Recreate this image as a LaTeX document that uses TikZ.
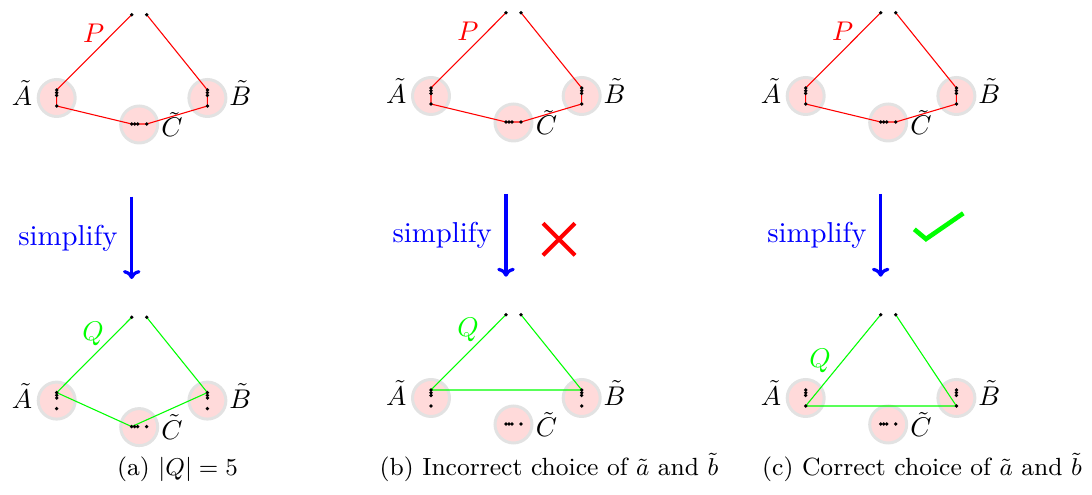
\documentclass[tikz,border=0pt]{standalone}
\usetikzlibrary{arrows.meta}
\definecolor{blobfill}{RGB}{255,218,218}
\definecolor{blobring}{RGB}{226,226,226}
\definecolor{qgreen}{RGB}{0,255,0}
\tikzset{
  blob/.style={circle, fill=blobfill, draw=blobring, line width=1.1pt, minimum size=13.7pt, inner sep=0pt},
  dot/.style={circle, fill=black, inner sep=0pt, minimum size=1.4pt},
  pline/.style={red, line width=0.4pt, line join=round},
  qline/.style={qgreen, line width=0.4pt, line join=round},
  lab/.style={anchor=base, inner sep=0pt},
  simparrow/.style={blue, line width=1.2pt, -{To[length=3.3pt,width=6.5pt]}},
  simplab/.style={blue, left, inner sep=4.6pt, font=\fontsize{10.65}{12}\selectfont},
  xmark/.style={red, line width=1.5pt},
  ckmark/.style={qgreen, line width=1.7pt},
  caplab/.style={anchor=base, inner sep=0pt, font=\fontsize{9.2}{11}\selectfont},
}
\newcommand\mkpanel[3]{%
  \begin{scope}[shift={(#2,#3)}]
    \node[blob] (#1cA) at (-75,83.3) {};
    \node[blob] (#1cB) at (75.7,83.3) {};
    \node[blob] (#1cC) at (7.5,109.8) {};
    \coordinate (#1T1) at (0,0);
    \coordinate (#1T2) at (15,0);
    \coordinate (#1A1) at (-75,75.3);
    \coordinate (#1A2) at (-75,78);
    \coordinate (#1A3) at (-75,80.7);
    \coordinate (#1A4) at (-75,91.3);
    \coordinate (#1B1) at (75.7,75.3);
    \coordinate (#1B2) at (75.7,78);
    \coordinate (#1B3) at (75.7,80.7);
    \coordinate (#1B4) at (75.7,91.3);
    \coordinate (#1C1) at (0,109.3);
    \coordinate (#1C2) at (3,109.3);
    \coordinate (#1C3) at (6,109.3);
    \coordinate (#1C4) at (15,109.3);
    \node[lab] (#1lA) at (-109.7,90.8) {$\tilde A$};
    \node[lab] (#1lB) at (108.5,90.8) {$\tilde B$};
    \node[lab] (#1lC) at (40.4,122.3) {$\tilde C$};
  \end{scope}}
\newcommand\mkdots[1]{%
  \foreach \p in {T1,T2,A1,A2,A3,A4,B1,B2,B3,B4,C1,C2,C3,C4}{\node[dot] (#1d\p) at (#1\p) {};}}
\begin{document}
\begin{tikzpicture}[x=0.37pt,y=-0.37pt]
  \useasboundingbox (0,0) rectangle (1092,495);
  % panels
  \mkpanel{at}{131.7}{14.7}
  \mkpanel{ab}{131.7}{317.3}
  \mkpanel{bt}{506}{12.7}
  \mkpanel{bb}{506}{314.7}
  \mkpanel{ct}{880.7}{12.7}
  \mkpanel{cb}{880.7}{314.7}
  % P paths
  \foreach \q in {at,bt,ct}{
    \draw[pline] (\q T1) -- (\q A1) -- (\q A2) -- (\q A3) -- (\q A4) -- (\q C1) -- (\q C2) -- (\q C3) -- (\q C4) -- (\q B4) -- (\q B3) -- (\q B2) -- (\q B1) -- (\q T2);
  }
  % Q paths
  \draw[qline] (abT1) -- (abA1) -- (abC1) -- (abB1) -- (abT2);
  \draw[qline] (bbT1) -- (bbA1) -- (bbB1) -- (bbT2);
  \draw[qline] (cbT1) -- (cbA4) -- (cbB4) -- (cbT2);
  % dots
  \mkdots{at}\mkdots{ab}\mkdots{bt}\mkdots{bb}\mkdots{ct}\mkdots{cb}
  % P / Q labels
  \node[red] (atP) at (93.7,33) {$P$};
  \node[red] (btP) at (468,31.7) {$P$};
  \node[red] (ctP) at (842.7,31.7) {$P$};
  \node[qgreen] (abQ) at (93,334) {$Q$};
  \node[qgreen] (bbQ) at (468,330) {$Q$};
  \node[qgreen] (cbQ) at (820,361) {$Q$};
  % simplify arrows
  \coordinate (aS) at (131.7,196.7); \coordinate (aE) at (131.7,279);
  \coordinate (bS) at (506,194);     \coordinate (bE) at (506,276.7);
  \coordinate (cS) at (880.7,194);   \coordinate (cE) at (880.7,276.7);
  \draw[simparrow] (aS) -- (aE) node[simplab, midway] (aL) {simplify};
  \draw[simparrow] (bS) -- (bE) node[simplab, midway] (bL) {simplify};
  \draw[simparrow] (cS) -- (cE) node[simplab, midway] (cL) {simplify};
  % cross
  \coordinate (x1) at (543,223.3); \coordinate (x2) at (575,255.3);
  \coordinate (x3) at (543,255.3); \coordinate (x4) at (575,223.3);
  \draw[xmark] (x1) -- (x2);
  \draw[xmark] (x3) -- (x4);
  % check
  \coordinate (k1) at (914.3,229.3); \coordinate (k2) at (926,239); \coordinate (k3) at (963.3,213.3);
  \draw[ckmark] (k1) -- (k2) -- (k3);
  % captions
  \node[caplab] (capa) at (177.5,476) {(a) $|Q| = 5$};
  \node[caplab] (capb) at (549,476) {(b) Incorrect choice of $\tilde{a}$ and $\tilde{b}$};
  \node[caplab] (capc) at (922,476) {(c) Correct choice of $\tilde{a}$ and $\tilde{b}$};
\end{tikzpicture}
\end{document}
